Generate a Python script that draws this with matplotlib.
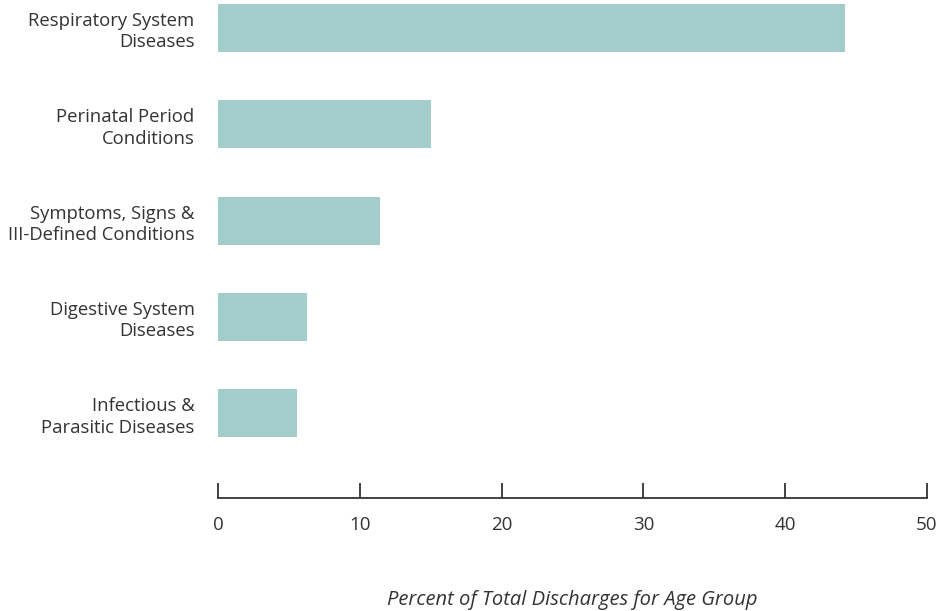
import matplotlib
matplotlib.use("Agg")
import matplotlib.pyplot as plt

categories = [
    "Respiratory System\nDiseases",
    "Perinatal Period\nConditions",
    "Symptoms, Signs &\nIII-Defined Conditions",
    "Digestive System\nDiseases",
    "Infectious &\nParasitic Diseases",
]
percents = [44.2, 15.0, 11.4, 6.3, 5.6]
xticks = [0, 10, 20, 30, 40, 50]

plt.rcParams['font.family'] = ['Open Sans', 'DejaVu Sans']
text_color = '#333333'

fig = plt.figure(figsize=(9.53, 6.11), dpi=100)
ax = fig.add_axes([218 / 953, 1 - 498 / 611, (927 - 218) / 953, 498 / 611])

pos = list(range(len(categories)))
ax.barh(pos, percents, height=0.5, color='#a3cdcb')

ax.set_xlim(0, 50)
ax.set_ylim(4.88, -0.29)
ax.set_xticks(xticks)
ax.set_xticklabels([str(t) for t in xticks], fontsize=13.5, color=text_color)
ax.set_yticks(pos)
ax.set_yticklabels(categories, fontsize=13.3, color=text_color,
                   linespacing=1.25, ha='right')
ax.tick_params(axis='y', length=0, pad=17)
ax.tick_params(axis='x', direction='in', length=11, width=1.3,
               color=text_color, pad=13)

for side in ['top', 'right', 'left']:
    ax.spines[side].set_visible(False)
ax.spines['bottom'].set_color(text_color)
ax.spines['bottom'].set_linewidth(1.3)

ax.set_xlabel("Percent of Total Discharges for Age Group", fontsize=14.5,
              style='italic', color=text_color, labelpad=40)

fig.savefig("out.png", dpi=100)
